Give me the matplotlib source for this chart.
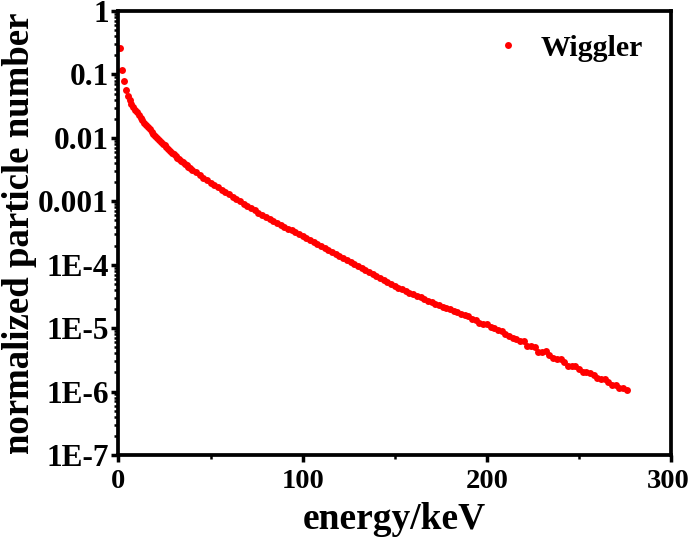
import numpy as np
import matplotlib
matplotlib.use('Agg')
import matplotlib.pyplot as plt
from matplotlib.ticker import FixedLocator, FixedFormatter, LogLocator, NullFormatter
from matplotlib.transforms import ScaledTranslation

plt.rcParams['font.family'] = ['Liberation Serif', 'DejaVu Serif']
plt.rcParams['font.weight'] = 'bold'

# ---- data ----
energy_keV = [
    1, 2, 3, 4, 5, 6, 7, 8, 9, 10,
    11, 12, 13, 14, 15, 16, 17, 18, 19, 20,
    21, 22, 23, 24, 25, 26, 27, 28, 29, 30,
    31, 32, 33, 34, 35, 36, 37, 38, 39, 40,
    42, 44, 46, 48, 50, 52, 54, 56, 58, 60, 62, 64, 66, 68, 70,
    72, 74, 76, 78, 80, 82, 84, 86, 88, 90, 92, 94, 96, 98, 100,
    102, 104, 106, 108, 110, 112, 114, 116, 118, 120, 122, 124, 126, 128, 130,
    132, 134, 136, 138, 140, 142, 144, 146, 148, 150, 152, 154, 156, 158, 160,
    162, 164, 166, 168, 170, 172, 174, 176, 178, 180, 182, 184, 186, 188, 190,
    192, 194, 196, 198, 200, 202, 204, 206, 208, 210, 212, 214, 216, 218, 220,
    222, 224, 226, 228, 230, 232, 234, 236, 238, 240, 242, 244, 246, 248, 250,
    252, 254, 256, 258, 260, 262, 264, 266, 268, 270, 272, 274, 276,
]
log10_norm_number = [
    -0.585, -0.93, -1.11, -1.245, -1.34, -1.41, -1.465, -1.515, -1.56, -1.60,
    -1.64, -1.68, -1.72, -1.76, -1.795, -1.83, -1.865, -1.90, -1.935, -1.97,
    -2.00, -2.03, -2.06, -2.09, -2.12, -2.15, -2.18, -2.205, -2.232, -2.26,
    -2.285, -2.31, -2.335, -2.36, -2.385, -2.41, -2.432, -2.455, -2.478, -2.50,
    -2.54, -2.585, -2.625, -2.665, -2.705, -2.745, -2.78, -2.82, -2.855, -2.89,
    -2.93, -2.965, -3.00, -3.04, -3.075,
    -3.11, -3.145, -3.18, -3.21, -3.24, -3.275, -3.305, -3.34, -3.37, -3.40,
    -3.43, -3.46, -3.49, -3.52, -3.55,
    -3.58, -3.61, -3.64, -3.673, -3.705, -3.736, -3.768, -3.80, -3.831, -3.863,
    -3.894, -3.926, -3.958, -3.99, -4.02,
    -4.052, -4.084, -4.115, -4.147, -4.18, -4.21, -4.242, -4.273, -4.305, -4.336,
    -4.362, -4.387, -4.413, -4.438, -4.464,
    -4.49, -4.515, -4.54, -4.566, -4.59, -4.613, -4.636, -4.659, -4.682, -4.705,
    -4.73, -4.753, -4.776, -4.80, -4.81,
    -4.852, -4.878, -4.92, -4.928, -4.94, -4.98, -5.005, -5.033, -5.04, -5.09,
    -5.117, -5.16, -5.173, -5.20, -5.21,
    -5.28, -5.285, -5.29, -5.37, -5.37, -5.36, -5.425, -5.47, -5.48, -5.48,
    -5.537, -5.59, -5.59, -5.60, -5.64,
    -5.69, -5.693, -5.70, -5.745, -5.79, -5.797, -5.80, -5.85, -5.89, -5.90,
    -5.95, -5.94, -5.98,
]
series_label = 'Wiggler'
x_major_ticks = [0, 100, 200, 300]
x_minor_ticks = [50, 150, 250]
y_tick_values = [1e-7, 1e-6, 1e-5, 1e-4, 1e-3, 1e-2, 1e-1, 1]
y_tick_labels = ['1E-7', '1E-6', '1E-5', '1E-4', '0.001', '0.01', '0.1', '1']
x_label = 'energy/keV'
y_label = 'normalized particle number'

# ---- figure ----
fig = plt.figure(figsize=(6.92, 5.39), dpi=100)
ax = fig.add_axes([0.1712, 0.1558, 0.7985, 0.8238])

norm_number = 10.0 ** np.array(log10_norm_number)
ax.plot(energy_keV, norm_number, linestyle='none', marker='o', ms=5.0,
        color='#ff0000', mec='none', label=series_label)

ax.set_yscale('log')
ax.set_xlim(0, 300)
ax.set_ylim(1e-7, 1)

ax.xaxis.set_major_locator(FixedLocator(x_major_ticks))
ax.xaxis.set_minor_locator(FixedLocator(x_minor_ticks))
ax.yaxis.set_major_locator(FixedLocator(y_tick_values))
ax.yaxis.set_major_formatter(FixedFormatter(y_tick_labels))
ax.yaxis.set_minor_locator(LogLocator(base=10, subs=np.arange(2, 10), numticks=20))
ax.yaxis.set_minor_formatter(NullFormatter())

for sp in ax.spines.values():
    sp.set_linewidth(2.7)
ax.tick_params(which='major', direction='out', length=5, width=2.5,
               top=False, right=False)
ax.tick_params(which='minor', direction='out', length=3, width=1.8,
               top=False, right=False)
ax.tick_params(axis='y', which='major', pad=2, labelsize=22.5)
ax.tick_params(axis='x', which='major', pad=5, labelsize=20.5)

ax.set_xlabel(x_label, fontsize=27, fontweight='bold', labelpad=6)
ax.set_ylabel(y_label, fontsize=26.5, fontweight='bold', labelpad=0.5)

# keep the right-most x tick label inside the canvas
fig.canvas.draw()
last_lbl = ax.get_xticklabels()[-1]
last_lbl.set_transform(last_lbl.get_transform() +
                       ScaledTranslation(-3 / 100, 0, fig.dpi_scale_trans))

ax.legend(loc='upper right', bbox_to_anchor=(0.998, 1.007), frameon=False,
          fontsize=21.5, markerscale=1.0, handlelength=1.0, handletextpad=0.6,
          numpoints=1)

fig.savefig('out.png', dpi=100)
